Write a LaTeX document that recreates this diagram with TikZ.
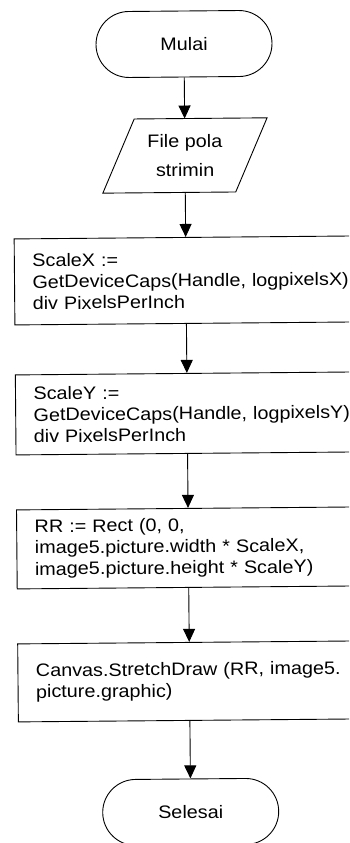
\documentclass[tikz,border=0pt]{standalone}
\usepackage{fontspec}
\setmainfont{Liberation Sans}[FakeStretch=1.1]
\usetikzlibrary{arrows.meta}
\begin{document}
\begin{tikzpicture}[x=1pt,y=1pt,
  line width=0.9pt,
  every node/.style={font=\fontsize{18}{21.3}\selectfont, inner sep=0pt},
  terminal/.style={draw, rectangle, rounded corners=33pt, minimum width=176pt, minimum height=66pt},
  procbox/.style={draw, rectangle, anchor=north west, text width=330pt, align=left, inner xsep=18pt, inner ysep=0pt},
  iobox/.style={rectangle, minimum width=132pt, minimum height=73pt, align=center, font=\fontsize{18}{29}\selectfont},
  flow/.style={-{Triangle[width=12pt,length=13pt]}}
]
\useasboundingbox (0,0) rectangle (349,-843);
\clip (0,0) rectangle (349,-843);
\begin{scope}[rotate around={0.5:(184,-44)}, transform shape]
  % start / end terminals
  \node[terminal] (mulai) at (184,-44) {Mulai};
  \node[terminal] (selesai) at (184,-812) {Selesai};

  % input: parallelogram drawn around an invisible node
  \node[iobox] (pola) at (184,-155.5) {File pola\\strimin};
  \draw ([xshift=16pt]pola.north west) -- ([xshift=16pt]pola.north east)
     -- ([xshift=-16pt]pola.south east) -- ([xshift=-16pt]pola.south west) -- cycle;

  % process steps
  \node[procbox, minimum height=86pt] (scalex) at (12,-237)
    {ScaleX :=\\GetDeviceCaps(Handle, logpixelsX)\\div PixelsPerInch};
  \node[procbox, minimum height=80pt] (scaley) at (12,-373)
    {ScaleY :=\\GetDeviceCaps(Handle, logpixelsY)\\div PixelsPerInch};
  \node[procbox, minimum height=79pt] (rect) at (12,-508)
    {RR := Rect (0, 0,\\image5.picture.width * ScaleX,\\image5.picture.height * ScaleY)};
  \node[procbox, minimum height=78pt] (stretch) at (12,-642)
    {Canvas.StretchDraw (RR, image5.\\picture.graphic)};

  % connectors
  \draw[flow] (mulai) -- (pola);
  \draw[flow] (pola) -- (scalex.north -| pola);
  \draw[flow] (scalex.south -| pola) -- (scaley.north -| pola);
  \draw[flow] (scaley.south -| pola) -- (rect.north -| pola);
  \draw[flow] (rect.south -| pola) -- (stretch.north -| pola);
  \draw[flow] (stretch.south -| pola) -- (selesai);
\end{scope}
\end{tikzpicture}
\end{document}
